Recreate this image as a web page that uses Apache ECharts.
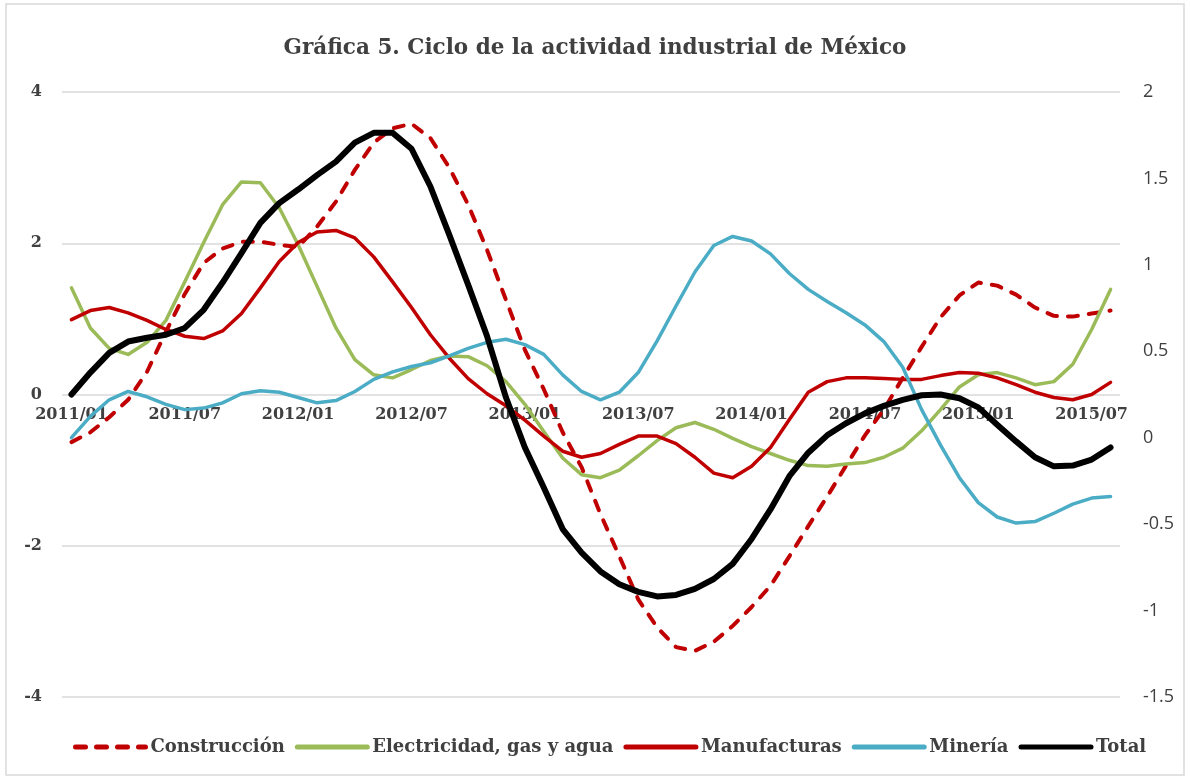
<!DOCTYPE html>
<html>
<head>
<meta charset="utf-8">
<script src="https://cdn.jsdelivr.net/npm/echarts@6/dist/echarts.min.js"></script>
<style>
  html, body { margin: 0; padding: 0; background: #fff; }
  #chart { width: 1190px; height: 780px; }
</style>
</head>
<body>
<div id="chart"></div>
<script>
// meses 2011/01 - 2015/08
var meses = [
  '2011/01','2011/02','2011/03','2011/04','2011/05','2011/06','2011/07','2011/08','2011/09','2011/10','2011/11','2011/12',
  '2012/01','2012/02','2012/03','2012/04','2012/05','2012/06','2012/07','2012/08','2012/09','2012/10','2012/11','2012/12',
  '2013/01','2013/02','2013/03','2013/04','2013/05','2013/06','2013/07','2013/08','2013/09','2013/10','2013/11','2013/12',
  '2014/01','2014/02','2014/03','2014/04','2014/05','2014/06','2014/07','2014/08','2014/09','2014/10','2014/11','2014/12',
  '2015/01','2015/02','2015/03','2015/04','2015/05','2015/06','2015/07','2015/08'
];

var construccion = [-0.63,-0.50,-0.30,-0.07,0.30,0.83,1.33,1.74,1.93,2.02,2.02,1.98,1.95,
  2.22,2.55,2.97,3.33,3.52,3.58,3.39,3.00,2.51,1.91,1.25,0.59,0.07,
  -0.50,-0.96,-1.58,-2.14,-2.71,-3.08,-3.34,-3.39,-3.27,-3.06,-2.81,-2.53,-2.14,
  -1.74,-1.35,-0.94,-0.54,-0.20,0.22,0.63,1.02,1.31,1.48,1.44,1.32,1.15,1.04,1.03,1.07,1.11];

var electricidad = [1.41,0.88,0.61,0.53,0.69,0.98,1.49,2.01,2.51,2.81,2.80,2.47,1.98,
  1.43,0.88,0.46,0.26,0.22,0.33,0.45,0.51,0.50,0.38,0.17,-0.13,
  -0.49,-0.84,-1.06,-1.10,-1.00,-0.81,-0.61,-0.44,-0.37,-0.46,-0.58,-0.69,-0.78,-0.87,
  -0.94,-0.95,-0.92,-0.90,-0.83,-0.71,-0.48,-0.20,0.10,0.26,0.29,0.22,0.13,0.17,0.40,0.86,1.39];

var manufacturas = [0.99,1.11,1.15,1.08,0.98,0.86,0.77,0.74,0.84,1.07,1.41,1.76,2.01,
  2.15,2.17,2.07,1.82,1.49,1.15,0.79,0.48,0.21,0.01,-0.15,-0.34,
  -0.55,-0.75,-0.83,-0.78,-0.66,-0.55,-0.55,-0.65,-0.83,-1.04,-1.10,-0.95,-0.70,-0.33,
  0.03,0.17,0.22,0.22,0.21,0.20,0.20,0.25,0.29,0.28,0.22,0.13,0.03,-0.04,-0.07,0.00,0.16];

var mineria = [-0.57,-0.29,-0.07,0.04,-0.03,-0.13,-0.20,-0.18,-0.11,0.01,0.05,0.03,-0.04,
  -0.11,-0.08,0.04,0.20,0.30,0.37,0.42,0.51,0.61,0.69,0.73,0.66,
  0.53,0.26,0.04,-0.07,0.03,0.29,0.71,1.17,1.62,1.97,2.09,2.03,1.86,1.60,
  1.39,1.23,1.08,0.92,0.70,0.36,-0.20,-0.67,-1.10,-1.43,-1.62,-1.70,-1.68,-1.57,-1.45,-1.37,-1.35];

var total = [0.00,0.29,0.55,0.70,0.75,0.79,0.88,1.12,1.48,1.87,2.27,2.53,2.71,
  2.90,3.08,3.33,3.46,3.46,3.25,2.75,2.11,1.45,0.77,-0.04,-0.70,
  -1.23,-1.78,-2.09,-2.34,-2.51,-2.61,-2.67,-2.65,-2.57,-2.44,-2.24,-1.91,-1.52,-1.08,
  -0.77,-0.54,-0.38,-0.25,-0.15,-0.07,-0.01,0.00,-0.05,-0.17,-0.40,-0.62,-0.83,-0.95,-0.94,-0.86,-0.70];

var serif = 'DejaVu Serif';
var gris = '#404040';

var chart = echarts.init(document.getElementById('chart'));

function linea(nombre, datos, color, ancho, tipo) {
  return {
    name: nombre,
    type: 'line',
    data: datos,
    symbol: 'none',
    smooth: false,
    lineStyle: { color: color, width: ancho, type: tipo || 'solid', cap: 'round', join: 'round' },
    itemStyle: { color: color }
  };
}

// el eje de categorías cruza en 0 del eje izquierdo (-4..4), es decir a media altura del grid
var gridTop = 92, gridBottom = 83;
var gridAlto = 780 - gridTop - gridBottom;

var option = {
  backgroundColor: '#fff',
  animation: false,
  title: {
    text: 'Gráfica 5. Ciclo de la actividad industrial de México',
    left: 'center',
    top: 32,
    textStyle: { fontFamily: serif, fontWeight: 'bold', fontSize: 21.5, color: gris }
  },
  graphic: [{
    type: 'rect',
    shape: { x: 6, y: 4, width: 1178, height: 771 },
    style: { fill: 'none', stroke: '#d9d9d9', lineWidth: 1.5 },
    silent: true
  }],
  legend: {
    bottom: 19,
    left: 68,
    itemWidth: 70,
    itemHeight: 12,
    itemGap: 10,
    itemStyle: { opacity: 0 },
    lineStyle: { width: 5, cap: 'round' },
    textStyle: { fontFamily: serif, fontWeight: 'bold', fontSize: 18, color: gris },
    data: ['Construcción', 'Electricidad, gas y agua', 'Manufacturas', 'Minería', 'Total']
  },
  grid: { left: 62, right: 70, top: gridTop, bottom: gridBottom },
  xAxis: {
    type: 'category',
    data: meses,
    boundaryGap: true,
    offset: -gridAlto / 2,
    axisLine: { show: false, onZero: false },
    axisTick: { show: false },
    axisLabel: {
      interval: 5,
      margin: 12,
      fontFamily: serif,
      fontWeight: 'bold',
      fontSize: 16,
      color: gris
    },
    splitLine: { show: false }
  },
  yAxis: [{
    type: 'value',
    min: -4,
    max: 4,
    interval: 2,
    axisLine: { show: false },
    axisTick: { show: false },
    axisLabel: { margin: 20, fontFamily: serif, fontWeight: 'bold', fontSize: 16, color: gris },
    splitLine: { lineStyle: { color: '#d9d9d9', width: 1.5 } }
  }, {
    type: 'value',
    min: -1.5,
    max: 2,
    interval: 0.5,
    axisLine: { show: false },
    axisTick: { show: false },
    axisLabel: { margin: 23, fontFamily: 'Open Sans', fontSize: 18, color: gris },
    splitLine: { show: false }
  }],
  series: [
    linea('Construcción', construccion, '#C00000', 4, [10, 11]),
    linea('Electricidad, gas y agua', electricidad, '#9BBB59', 3.5),
    linea('Manufacturas', manufacturas, '#C00000', 3.5),
    linea('Minería', mineria, '#4BACC6', 3.5),
    linea('Total', total, '#000000', 6)
  ]
};

chart.setOption(option);
</script>
</body>
</html>
